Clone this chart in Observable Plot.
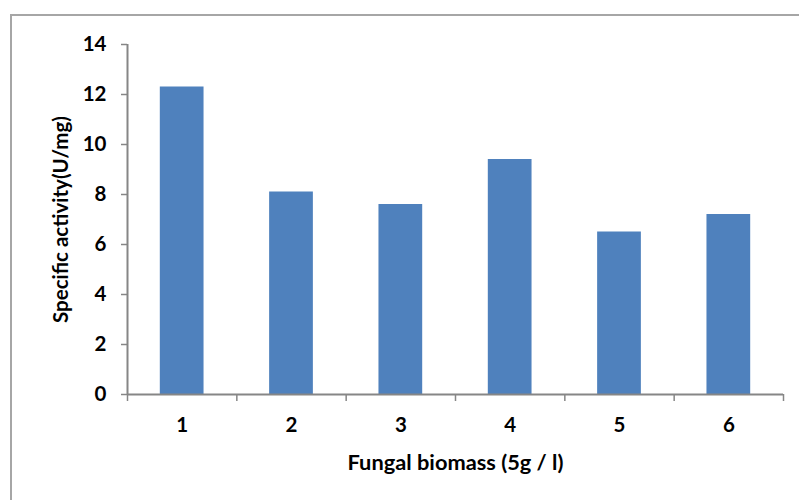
<!DOCTYPE html>
<html>
<head>
<meta charset="utf-8">
<script src="https://cdn.jsdelivr.net/npm/d3@7"></script>
<script src="https://cdn.jsdelivr.net/npm/@observablehq/plot@0.6"></script>
<style>
  html, body { margin: 0; padding: 0; background: #fff; overflow: hidden; }
  #wrap { position: relative; width: 799px; height: 500px; overflow: hidden; }
  #border { position: absolute; left: 10px; top: 14px; width: 820px; height: 520px;
            border: 2px solid #a6a6a6; box-sizing: border-box; pointer-events: none; }
  #chart { position: absolute; left: 0; top: 0; }
</style>
</head>
<body>
<div id="wrap">
  <div id="chart"></div>
  <div id="border"></div>
</div>
<script>
// Specific activity per fungal biomass sample
const categories = [1, 2, 3, 4, 5, 6];
const activity = [12.3, 8.1, 7.6, 9.4, 6.5, 7.2];
const yTicks = [0, 2, 4, 6, 8, 10, 12, 14];

const xTitle = "Fungal biomass (5g / l)";
const yTitle = "Specific activity(U/mg)";

const data = categories.map((c, i) => ({category: c, value: activity[i]}));
// category boundaries carry the x-axis tick marks
const boundaries = categories.map(c => c - 0.5).concat([categories[categories.length - 1] + 0.5]);

const axisGray = "#868686";
const barBlue = "#4F81BD";
const halfBar = 0.2; // bars fill 40% of each category slot

const chart = Plot.plot({
  width: 799,
  height: 500,
  marginLeft: 127,
  marginRight: 16,
  marginTop: 44,
  marginBottom: 106,
  style: {fontFamily: "Lato, 'Open Sans', sans-serif", fontWeight: "bold", fontSize: "19px", color: "#000", background: "transparent"},
  x: {type: "linear", domain: [0.5, 6.5]},
  y: {domain: [0, 14]},
  marks: [
    Plot.rectY(data, {x1: d => d.category - halfBar, x2: d => d.category + halfBar, y: "value", fill: barBlue}),
    Plot.axisY(yTicks, {tickSize: 6, tickFormat: () => "", color: axisGray, strokeWidth: 1.5, label: null}),
    Plot.axisY(yTicks, {tickSize: 0, tickPadding: 21, fontSize: 20.5, color: "#000",
      label: yTitle, labelArrow: "none", labelAnchor: "center", labelOffset: 74}),
    Plot.axisX(boundaries, {tickSize: 7, tickFormat: () => "", color: axisGray, strokeWidth: 1.5, label: null}),
    Plot.axisX(categories, {tickSize: 0, tickPadding: 23, fontSize: 20.5, color: "#000", label: null}),
    Plot.text([xTitle], {frameAnchor: "bottom", dy: 75, fontSize: 21.8, fill: "#000"}),
    Plot.ruleY([0], {stroke: axisGray, strokeWidth: 2}),
    Plot.ruleX([0.5], {stroke: axisGray, strokeWidth: 2})
  ]
});
document.getElementById("chart").appendChild(chart);
</script>
</body>
</html>
